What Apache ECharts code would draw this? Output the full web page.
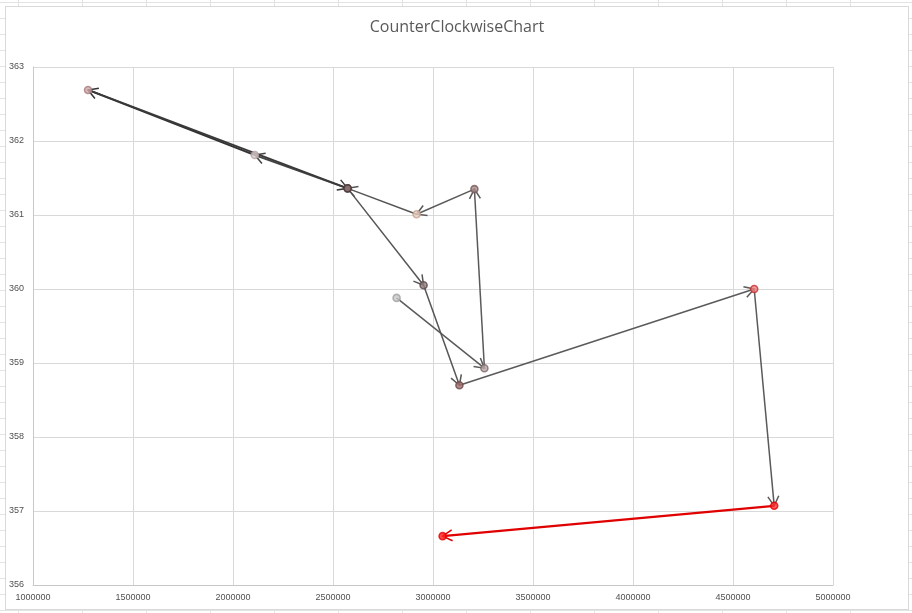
<!DOCTYPE html>
<html>
<head>
<meta charset="utf-8">
<script src="https://cdn.jsdelivr.net/npm/echarts@6/dist/echarts.min.js"></script>
<style>
  html, body { margin: 0; padding: 0; width: 912px; height: 613px; overflow: hidden; }
  body {
    background-color: #ffffff;
    background-image:
      repeating-linear-gradient(to right, transparent 0, transparent 18px, #e3e3e3 18px, #e3e3e3 19px, transparent 19px, transparent 64px),
      repeating-linear-gradient(to bottom, transparent 0, transparent 2px, #e3e3e3 2px, #e3e3e3 3px, transparent 3px, transparent 16px);
  }
  #chart {
    position: absolute; left: 5px; top: 6px; width: 902px; height: 602px;
    background: #ffffff; border: 1px solid #d9d9d9;
  }
</style>
</head>
<body>
<div id="chart"></div>
<script>
// ---- data ----
const xValues = [2818000, 3257000, 3207000, 2918000, 2573000, 2109000, 1275000, 2573000, 2953000, 3132000, 4606000, 4706000, 3048000];
const yValues = [359.88, 358.93, 361.35, 361.01, 361.36, 361.81, 362.69, 361.36, 360.05, 358.70, 360.00, 357.07, 356.66];
const xTicks = [1000000, 1500000, 2000000, 2500000, 3000000, 3500000, 4000000, 4500000, 5000000];
const yTicks = [356, 357, 358, 359, 360, 361, 362, 363];
const chartTitle = 'CounterClockwiseChart';

// ---- styles ----
const markerFill = ['#c8c8c8', '#b8a8a8', '#a88c8c', '#e8cfc0', '#8a7070', '#ddd0d0', '#d0a8a8', '#8a7070', '#948080', '#a07070', '#f08080', '#ff3030', '#ff2020'];
const markerBorder = ['#a0a0a0', '#806868', '#7a5a5a', '#c8a08c', '#4e3a3a', '#b8a0a0', '#a87c7c', '#4e3a3a', '#5e4848', '#6e4a48', '#c83030', '#e00000', '#e80000'];
const segColors = ['#5a5a5a', '#5a5a5a', '#5a5a5a', '#555555', '#444444', '#333333', '#3a3a3a', '#555555', '#555555', '#5a5a5a', '#5a5a5a', '#e00000'];
const segWidths = [1.5, 1.5, 1.5, 1.5, 1.8, 2, 1.8, 1.5, 1.5, 1.5, 1.5, 2.2];

const points = xValues.map((x, i) => [x, yValues[i]]);
const segments = [];
for (let i = 0; i < points.length - 1; i++) {
  segments.push([points[i][0], points[i][1], points[i + 1][0], points[i + 1][1]]);
}

const chart = echarts.init(document.getElementById('chart'), null, { renderer: 'canvas' });
const labelStyle = { color: '#505050', fontSize: 9, fontFamily: 'Liberation Sans, Arial, sans-serif' };

chart.setOption({
  animation: false,
  title: {
    text: chartTitle,
    left: 'center',
    top: 7,
    textStyle: { color: '#595959', fontSize: 16, fontWeight: 'normal', fontFamily: 'Open Sans, sans-serif' }
  },
  grid: { left: 22, right: 75, top: 60, bottom: 24, containLabel: false },
  xAxis: {
    type: 'value',
    min: xTicks[0], max: xTicks[xTicks.length - 1], interval: xTicks[1] - xTicks[0],
    axisLine: { show: true, lineStyle: { color: '#c8c8c8' } },
    axisTick: { show: false },
    splitLine: { show: true, lineStyle: { color: '#d9d9d9' } },
    axisLabel: Object.assign({ margin: 8, formatter: v => String(v) }, labelStyle)
  },
  yAxis: {
    type: 'value',
    min: yTicks[0], max: yTicks[yTicks.length - 1], interval: yTicks[1] - yTicks[0],
    axisLine: { show: true, lineStyle: { color: '#c8c8c8' } },
    axisTick: { show: false },
    splitLine: { show: true, lineStyle: { color: '#d9d9d9' } },
    axisLabel: Object.assign({ margin: 9 }, labelStyle)
  },
  series: [
    {
      type: 'custom',
      z: 2,
      data: segments,
      encode: { x: [0, 2], y: [1, 3] },
      renderItem: function (params, api) {
        const i = params.dataIndex;
        const a = api.coord([api.value(0), api.value(1)]);
        const b = api.coord([api.value(2), api.value(3)]);
        const ang = Math.atan2(b[1] - a[1], b[0] - a[0]);
        const len = 11, spread = 0.52;
        const b1 = [b[0] - len * Math.cos(ang - spread), b[1] - len * Math.sin(ang - spread)];
        const b2 = [b[0] - len * Math.cos(ang + spread), b[1] - len * Math.sin(ang + spread)];
        const st = { stroke: segColors[i], lineWidth: segWidths[i], fill: null };
        return {
          type: 'group',
          children: [
            { type: 'line', shape: { x1: a[0], y1: a[1], x2: b[0], y2: b[1] }, style: st },
            { type: 'polyline', shape: { points: [b1, b, b2] }, style: { stroke: segColors[i], lineWidth: 1.5, fill: null } }
          ]
        };
      }
    },
    {
      type: 'scatter',
      z: 3,
      symbol: 'circle',
      symbolSize: 7,
      data: points.map((p, i) => ({
        value: p,
        itemStyle: { color: markerFill[i], borderColor: markerBorder[i], borderWidth: 1.6 }
      }))
    }
  ]
});
</script>
</body>
</html>
